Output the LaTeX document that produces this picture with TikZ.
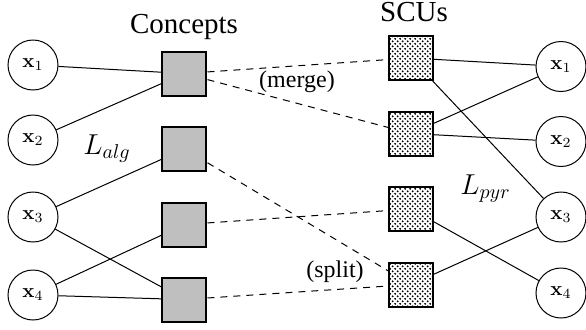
\documentclass[tikz,border=0pt]{standalone}
\usepackage[no-math]{fontspec}
\setmainfont{Liberation Serif}
\usetikzlibrary{patterns}
\pgfdeclarepatternformonly{scudots}{\pgfpointorigin}{\pgfqpoint{2.5pt}{2.5pt}}{\pgfqpoint{2.5pt}{2.5pt}}{%
  \pgfpathcircle{\pgfqpoint{0.6pt}{0.6pt}}{.5pt}%
  \pgfpathcircle{\pgfqpoint{1.85pt}{1.85pt}}{.5pt}%
  \pgfusepath{fill}}
\begin{document}
\begin{tikzpicture}[x=0.5pt,y=-0.5pt,
  var/.style={circle,draw,line width=0.5pt,minimum size=25pt,inner sep=0pt,font=\fontsize{10}{12}\selectfont},
  concept/.style={rectangle,draw,line width=1pt,fill=gray!50,minimum size=22pt,inner sep=0pt},
  scu/.style={rectangle,draw,line width=1pt,pattern=scudots,minimum size=22pt,inner sep=0pt},
  edge/.style={line width=0.5pt},
  dedge/.style={line width=0.5pt,dash pattern=on 3.5pt off 3pt},
  head/.style={font=\fontsize{14.5}{17}\selectfont,inner sep=0pt,anchor=base},
  note/.style={font=\fontsize{12}{14}\selectfont,inner sep=0pt,anchor=base},
  lbl/.style={font=\fontsize{14.4}{16}\selectfont,inner sep=0pt,anchor=base west}]
\useasboundingbox (0,0) rectangle (586,329);
% left variables
\node[var] (L1) at (33,65) {$\mathbf{x}_1$};
\node[var] (L2) at (33,140) {$\mathbf{x}_2$};
\node[var] (L3) at (33,217) {$\mathbf{x}_3$};
\node[var] (L4) at (33,295) {$\mathbf{x}_4$};
% concepts
\node[concept] (C1) at (184.5,73.5) {};
\node[concept] (C2) at (184.5,149) {};
\node[concept] (C3) at (184.5,224.5) {};
\node[concept] (C4) at (184.5,299.5) {};
% SCUs
\node[scu] (S1) at (411,58) {};
\node[scu] (S2) at (411,133.5) {};
\node[scu] (S3) at (411,209) {};
\node[scu] (S4) at (411,284.5) {};
% right variables
\node[var] (R1) at (561,66.5) {$\mathbf{x}_1$};
\node[var] (R2) at (561,141.5) {$\mathbf{x}_2$};
\node[var] (R3) at (561,217) {$\mathbf{x}_3$};
\node[var] (R4) at (561,293) {$\mathbf{x}_4$};
% labels
\node[head] (hc) at (184,33) {Concepts};
\node[head] (hs) at (414,21) {SCUs};
\node[note] (merge) at (297,87) {(merge)};
\node[note] (split) at (335,277) {(split)};
\node[lbl] (lalg) at (83,154) {$L_{alg}$};
\node[lbl] (lpyr) at (460,194) {$L_{pyr}$};
% left edges
\draw[edge] (L1) -- (C1);
\draw[edge] (L2) -- (C1);
\draw[edge] (L3) -- (C2);
\draw[edge] (L3) -- (C4);
\draw[edge] (L4) -- (C3);
\draw[edge] (L4) -- (C4);
% dashed alignments
\draw[dedge] (C1) -- (S1);
\draw[dedge] (C1) -- (S2);
\draw[dedge] (C2) -- (S4);
\draw[dedge] (C3) -- (S3);
\draw[dedge] (C4) -- (S4);
% right edges
\draw[edge] (S1) -- (R1);
\draw[edge] (S1) -- (R3);
\draw[edge] (S2) -- (R1);
\draw[edge] (S2) -- (R2);
\draw[edge] (S3) -- (R4);
\draw[edge] (S4) -- (R3);
\end{tikzpicture}
\end{document}
